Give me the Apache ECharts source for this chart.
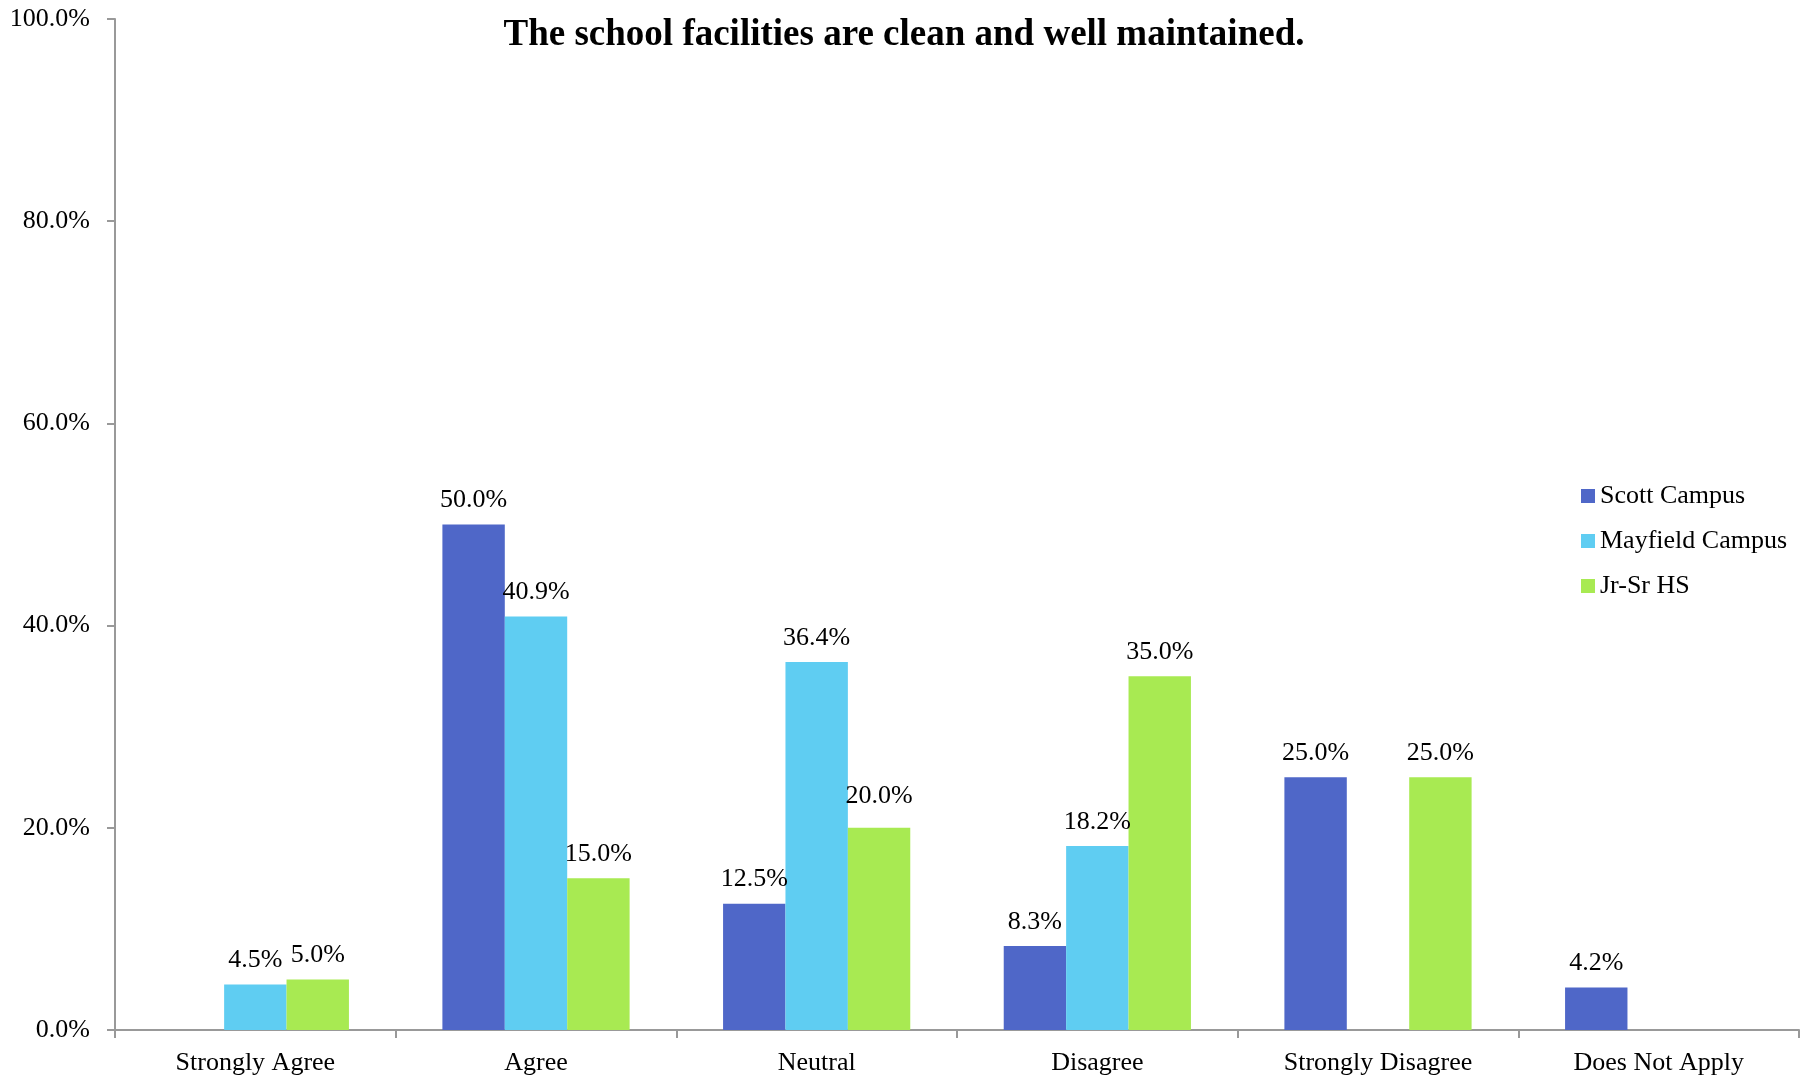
<!DOCTYPE html>
<html>
<head>
<meta charset="utf-8">
<script src="https://cdn.jsdelivr.net/npm/echarts@6/dist/echarts.min.js"></script>
<style>html,body{margin:0;padding:0;background:#fff}#c{width:1808px;height:1076px}</style>
</head>
<body>
<div id="c"></div>
<script>
const categories = ['Strongly Agree', 'Agree', 'Neutral', 'Disagree', 'Strongly Disagree', 'Does Not Apply'];
const seriesNames = ['Scott Campus', 'Mayfield Campus', 'Jr-Sr HS'];
const scott = [null, 50.0, 12.5, 8.3, 25.0, 4.2];
const mayfield = [4.5, 40.9, 36.4, 18.2, null, null];
const jrsr = [5.0, 15.0, 20.0, 35.0, 25.0, null];
const yTicks = [0, 20, 40, 60, 80, 100];
const titleText = 'The school facilities are clean and well maintained.';

const colors = ['#4F67C8', '#5FCDF2', '#A8EA52'];
const font = '"Liberation Serif", "Times New Roman", serif';
const fmt = v => Number(v).toFixed(1) + '%';

// label nudges (style only, applied when building series)
const labelNudge = { 'Jr-Sr HS': { 2: -8 } };

const chart = echarts.init(document.getElementById('c'));
const mk = (name, data, color) => ({
  name, type: 'bar',
  data: data.map((v, i) => {
    const n = labelNudge[name] && labelNudge[name][i];
    return n ? { value: v, label: { offset: [0, n] } } : v;
  }),
  itemStyle: { color },
  barGap: '0%', barCategoryGap: '33.3%',
  label: {
    show: true, position: 'top', distance: 11,
    fontFamily: font, fontSize: 26, color: '#000',
    formatter: p => p.value == null ? '' : fmt(p.value)
  }
});
chart.setOption({
  animation: false,
  backgroundColor: '#fff',
  title: {
    text: titleText, left: 'center', top: 12,
    textStyle: { fontFamily: font, fontSize: 37, fontWeight: 'bold', color: '#000' }
  },
  legend: {
    orient: 'vertical', left: 1576, top: 478,
    itemWidth: 14, itemHeight: 14, itemGap: 19,
    icon: 'rect',
    textStyle: { fontFamily: font, fontSize: 26, color: '#000' },
    data: seriesNames
  },
  grid: { left: 115, right: 9, top: 19, bottom: 46, containLabel: false },
  xAxis: {
    type: 'category', data: categories,
    axisLine: { lineStyle: { color: '#999', width: 2 } },
    axisTick: { show: true, length: 8, lineStyle: { color: '#999', width: 2 } },
    axisLabel: { fontFamily: font, fontSize: 26, color: '#000', margin: 20 }
  },
  yAxis: {
    type: 'value', min: yTicks[0], max: yTicks[yTicks.length - 1], interval: yTicks[1] - yTicks[0],
    axisLine: { show: true, lineStyle: { color: '#999', width: 2 } },
    axisTick: { show: true, length: 8, lineStyle: { color: '#999', width: 2 } },
    splitLine: { show: false },
    axisLabel: { fontFamily: font, fontSize: 26, color: '#000', margin: 25, formatter: v => fmt(v) }
  },
  series: [mk(seriesNames[0], scott, colors[0]), mk(seriesNames[1], mayfield, colors[1]), mk(seriesNames[2], jrsr, colors[2])]
});
</script>
</body>
</html>
